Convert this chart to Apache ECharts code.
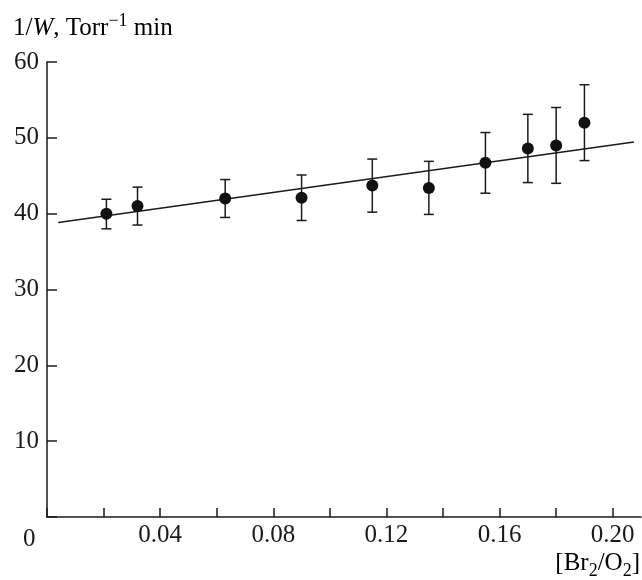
<!DOCTYPE html>
<html>
  <head>
    <meta charset="UTF-8" />
    <title>1/W vs Br2/O2</title>
    <script src="https://cdn.jsdelivr.net/npm/echarts@6/dist/echarts.min.js"></script>
    <style>
      html, body { margin: 0; padding: 0; background: #fff; }
      #main { width: 642px; height: 580px; }
    </style>
  </head>
  <body>
    <div id="main"></div>
    <script type="text/javascript">
      // data
      var ratio = [0.021, 0.032, 0.063, 0.090, 0.115, 0.135, 0.155, 0.170, 0.180, 0.190];
      var invW = [40.0, 41.0, 42.0, 42.1, 43.7, 43.4, 46.7, 48.6, 49.0, 52.0];
      var errLow = [38.0, 38.5, 39.5, 39.1, 40.2, 39.9, 42.7, 44.1, 44.0, 47.0];
      var errHigh = [41.9, 43.5, 44.5, 45.1, 47.2, 46.9, 50.7, 53.1, 54.0, 57.0];
      // fitted straight line, two end points
      var fitX = [0.004, 0.2075];
      var fitY = [38.85, 49.45];
      var xLabels = [0.04, 0.08, 0.12, 0.16, 0.20];

      var font = '"Liberation Serif", "DejaVu Serif", serif';
      var ink = "#1a1a1a";

      var points = ratio.map(function (x, i) { return [x, invW[i]]; });
      var bars = ratio.map(function (x, i) { return [x, errLow[i], errHigh[i]]; });
      var fit = fitX.map(function (x, i) { return [x, fitY[i]]; });

      var chart = echarts.init(document.getElementById("main"));

      var option = {
        animation: false,
        backgroundColor: "#fff",
        grid: { left: 47, right: 1, top: 62, bottom: 63 },
        xAxis: {
          type: "value",
          min: 0,
          max: 0.21,
          interval: 0.02,
          splitLine: { show: false },
          axisLine: { lineStyle: { color: ink, width: 1.5 } },
          axisTick: { inside: true, length: 9, lineStyle: { color: ink, width: 1.5 } },
          axisLabel: {
            margin: 6,
            fontFamily: font,
            fontSize: 25,
            color: ink,
            showMaxLabel: false,
            formatter: function (v) {
              for (var i = 0; i < xLabels.length; i++) {
                if (Math.abs(v - xLabels[i]) < 1e-6) return xLabels[i].toFixed(2);
              }
              return "";
            },
          },
        },
        yAxis: {
          type: "value",
          min: 0,
          max: 60,
          interval: 10,
          splitLine: { show: false },
          axisLine: { lineStyle: { color: ink, width: 1.5 } },
          axisTick: { inside: true, length: 10, lineStyle: { color: ink, width: 1.5 } },
          axisLabel: {
            margin: 8,
            fontFamily: font,
            fontSize: 25,
            color: ink,
            formatter: function (v) { return v === 0 ? "" : String(v); },
          },
        },
        graphic: [
          {
            type: "text",
            left: 13,
            top: 12,
            style: {
              text: "{n|1/}{w|W}{n|, Torr}{sup|−1}{n| min}",
              rich: {
                n: { fontFamily: font, fontSize: 25, color: ink, lineHeight: 29, verticalAlign: "bottom" },
                w: { fontFamily: font, fontSize: 25, fontStyle: "italic", color: ink, lineHeight: 29, verticalAlign: "bottom" },
                sup: { fontFamily: font, fontSize: 18, color: ink, lineHeight: 18, verticalAlign: "top" },
              },
            },
          },
          {
            type: "text",
            left: 23,
            top: 527,
            style: { text: "0", fontFamily: font, fontSize: 25, fill: ink },
          },
          {
            type: "text",
            right: 2,
            top: 551,
            style: {
              text: "{n|[Br}{sub|2}{n|/O}{sub|2}{n|]}",
              rich: {
                n: { fontFamily: font, fontSize: 25, color: ink, lineHeight: 29, verticalAlign: "top" },
                sub: { fontFamily: font, fontSize: 18, color: ink, lineHeight: 18, verticalAlign: "bottom" },
              },
            },
          },
        ],
        series: [
          {
            name: "fit",
            type: "line",
            data: fit,
            symbol: "none",
            lineStyle: { color: ink, width: 1.5 },
            z: 1,
          },
          {
            name: "error",
            type: "custom",
            data: bars,
            z: 2,
            renderItem: function (params, api) {
              var lo = api.coord([api.value(0), api.value(1)]);
              var hi = api.coord([api.value(0), api.value(2)]);
              var cap = 5;
              var st = { stroke: ink, lineWidth: 1.5 };
              return {
                type: "group",
                children: [
                  { type: "line", shape: { x1: lo[0], y1: lo[1], x2: hi[0], y2: hi[1] }, style: st },
                  { type: "line", shape: { x1: lo[0] - cap, y1: lo[1], x2: lo[0] + cap, y2: lo[1] }, style: st },
                  { type: "line", shape: { x1: hi[0] - cap, y1: hi[1], x2: hi[0] + cap, y2: hi[1] }, style: st },
                ],
              };
            },
          },
          {
            name: "1/W",
            type: "scatter",
            data: points,
            symbol: "circle",
            symbolSize: 12,
            itemStyle: { color: "#111", opacity: 1 },
            z: 3,
          },
        ],
      };

      chart.setOption(option);
    </script>
  </body>
</html>
